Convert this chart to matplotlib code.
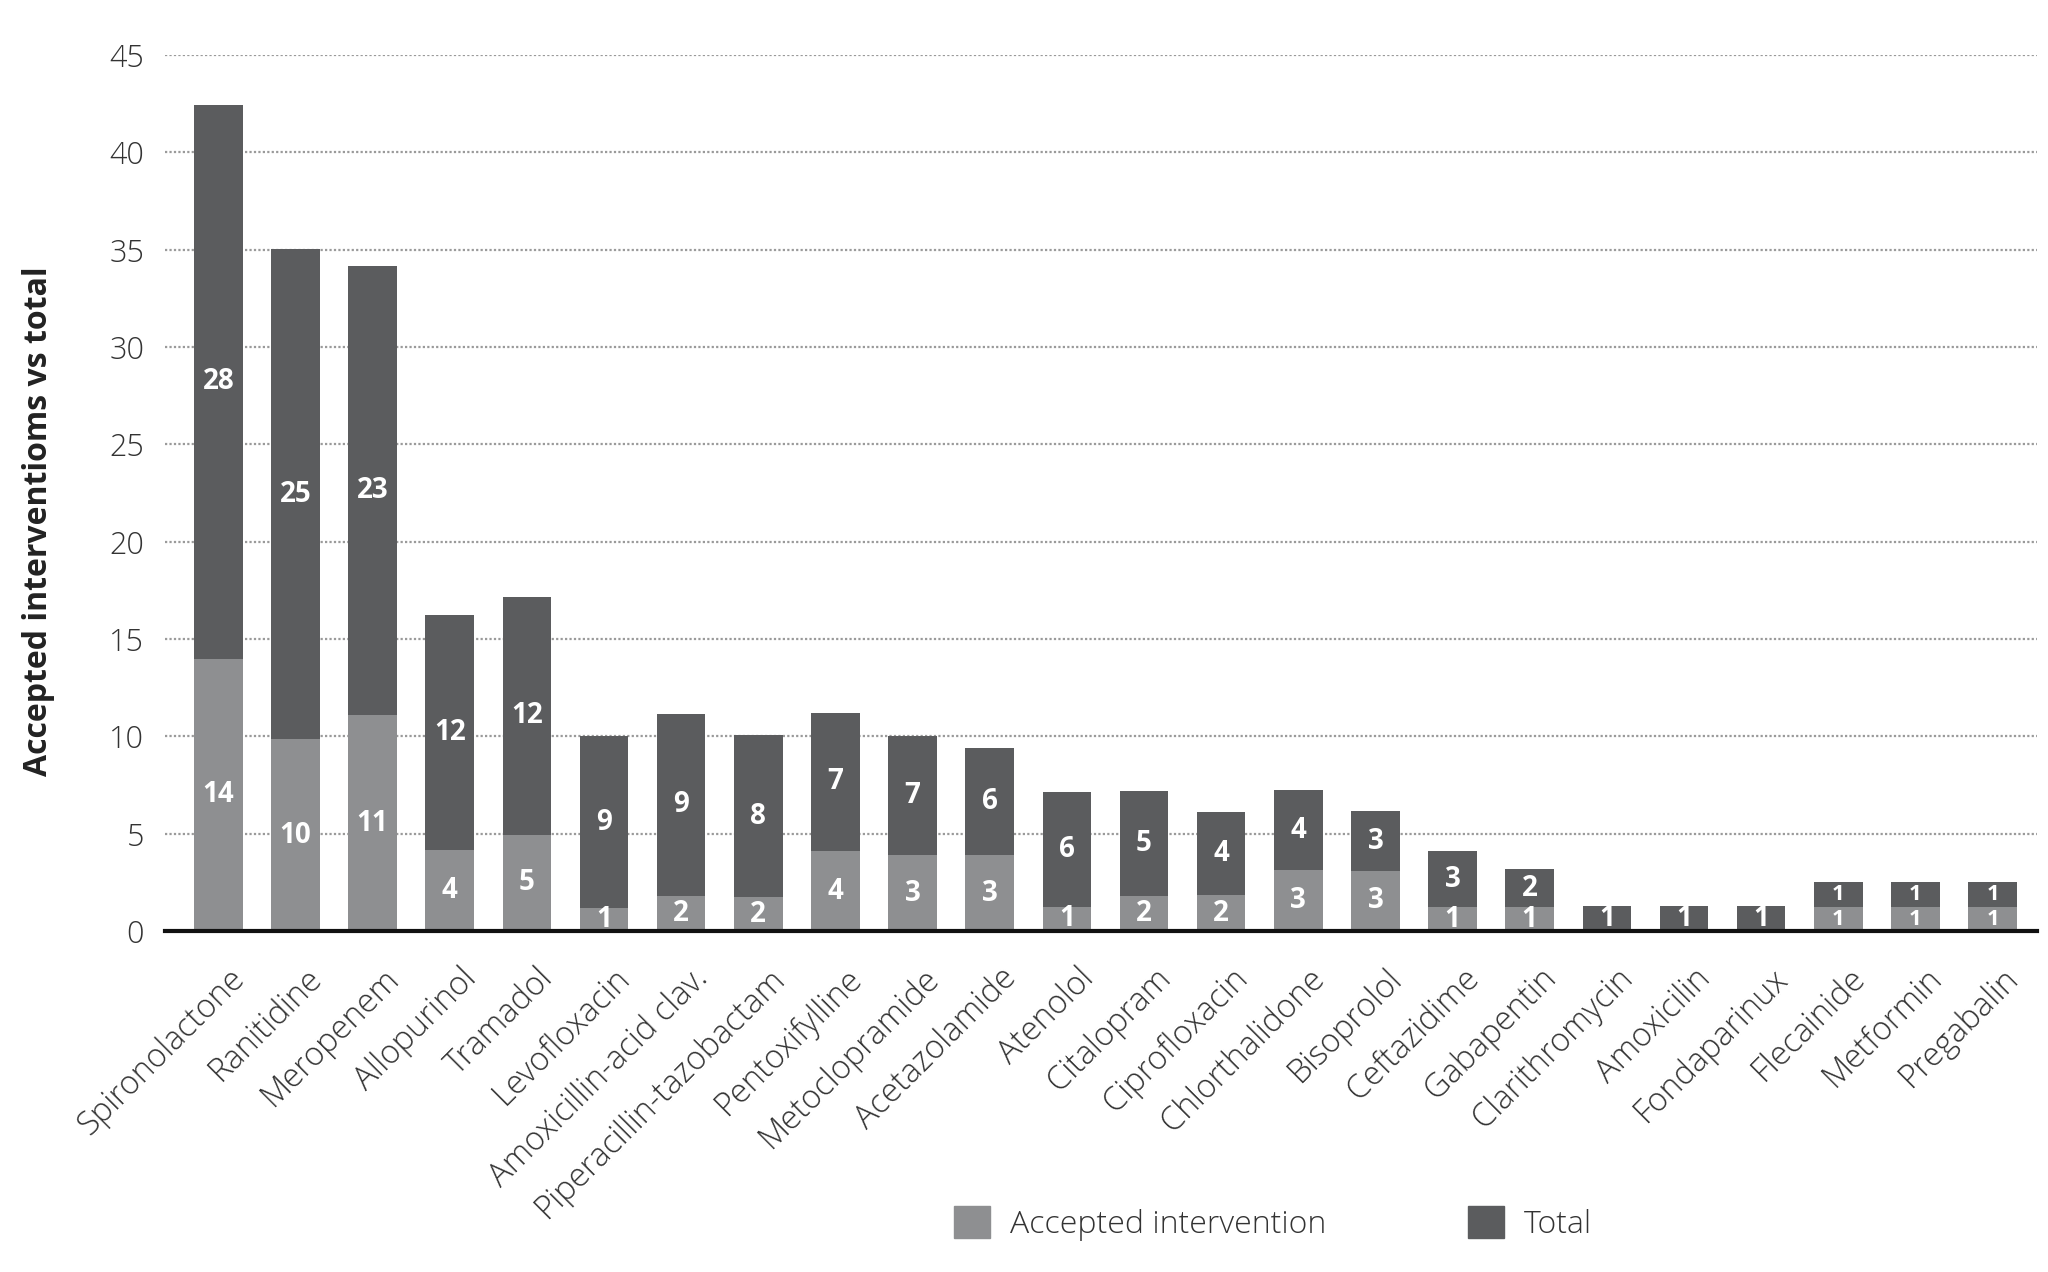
import matplotlib
matplotlib.use("Agg")
import matplotlib.pyplot as plt
import matplotlib.transforms as mtransforms
from matplotlib.patches import Patch
import numpy as np

drugs = ["Spironolactone", "Ranitidine", "Meropenem", "Allopurinol", "Tramadol",
         "Levofloxacin", "Amoxicillin-acid clav.", "Piperacillin-tazobactam",
         "Pentoxifylline", "Metoclopramide", "Acetazolamide", "Atenolol",
         "Citalopram", "Ciprofloxacin", "Chlorthalidone", "Bisoprolol",
         "Ceftazidime", "Gabapentin", "Clarithromycin", "Amoxicilin",
         "Fondaparinux", "Flecainide", "Metformin", "Pregabalin"]

# bar heights as drawn in the picture
accepted_height = [14.0, 9.85, 11.1, 4.15, 4.95, 1.17, 1.8, 1.75, 4.1, 3.9, 3.9, 1.25,
                   1.8, 1.85, 3.12, 3.1, 1.22, 1.22, 0, 0, 0, 1.22, 1.22, 1.22]
total_top = [42.45, 35.05, 34.15, 16.25, 17.15, 10.0, 11.17, 10.05, 11.22, 10.02, 9.42, 7.14,
             7.22, 6.1, 7.26, 6.15, 4.11, 3.18, 1.31, 1.31, 1.31, 2.5, 2.5, 2.5]

# printed labels
accepted_labels = [14, 10, 11, 4, 5, 1, 2, 2, 4, 3, 3, 1, 2, 2, 3, 3, 1, 1, None, None, None, 1, 1, 1]
other_labels = [28, 25, 23, 12, 12, 9, 9, 8, 7, 7, 6, 6, 5, 4, 4, 3, 3, 2, 1, 1, 1, 1, 1, 1]

yticks = [0, 5, 10, 15, 20, 25, 30, 35, 40, 45]

FONT = "Open Sans"
light = "#8e8f91"
dark = "#5b5c5e"

fig = plt.figure(figsize=(20.48, 12.72), dpi=100)
ax = fig.add_axes([0.0806, 0.268, 0.914, 0.6888])

x = np.arange(len(drugs))
acc = np.array(accepted_height)
top = np.array(total_top)
w = 0.63
ax.bar(x, acc, width=w, color=light, zorder=3)
ax.bar(x, top - acc, bottom=acc, width=w, color=dark, zorder=3)

for i in range(len(drugs)):
    seg_small = acc[i] > 0 and (top[i] - acc[i]) < 1.5 and acc[i] < 1.5
    fs = 16 if seg_small else 20
    if accepted_labels[i] is not None and acc[i] > 0:
        ax.text(x[i], acc[i] / 2, str(accepted_labels[i]), ha="center", va="center",
                color="white", fontsize=fs, fontweight="bold", family=FONT, zorder=4)
    ax.text(x[i], (acc[i] + top[i]) / 2, str(other_labels[i]), ha="center", va="center",
            color="white", fontsize=fs, fontweight="bold", family=FONT, zorder=4)

ax.set_ylim(0, 45)
ax.set_xlim(-0.69, len(drugs) - 1 + 0.575)
ax.set_yticks(yticks)
ax.set_yticklabels([str(t) for t in yticks], family=FONT, fontsize=22, color="#333333",
                   fontweight="light")
ax.tick_params(axis="y", length=0, pad=15)
ax.set_xticks(x)
ax.set_xticklabels(drugs, rotation=45, ha="right", rotation_mode="anchor",
                   family=FONT, fontsize=23.5, color="#333333", fontweight="light")
ax.tick_params(axis="x", length=0, pad=22)
offset = mtransforms.ScaledTranslation(7 / 72, 0, fig.dpi_scale_trans)
for lab in ax.get_xticklabels():
    lab.set_transform(lab.get_transform() + offset)

ax.grid(axis="y", linestyle=(0, (1, 1)), color="#9a9a9a", linewidth=1.6, zorder=0)
for s in ["top", "right", "left"]:
    ax.spines[s].set_visible(False)
ax.spines["bottom"].set_linewidth(3)
ax.spines["bottom"].set_color("#111111")
ax.spines["bottom"].set_zorder(5)

fig.text(0.019, 0.59, "Accepted interventioms vs total", rotation=90, ha="center", va="center",
         family=FONT, fontsize=23, fontweight="bold", color="#222222")

handles = [Patch(color=light, label="Accepted intervention"), Patch(color=dark, label="Total")]
fig.legend(handles=handles, loc="center", bbox_to_anchor=(0.6215, 0.038), ncol=2, frameon=False,
           prop={"family": FONT, "size": 23, "weight": "light"}, handlelength=1.14,
           handleheight=1.14, handletextpad=0.61, columnspacing=4.45, labelcolor="#333333")

fig.savefig("out.png", dpi=100, facecolor="white")
